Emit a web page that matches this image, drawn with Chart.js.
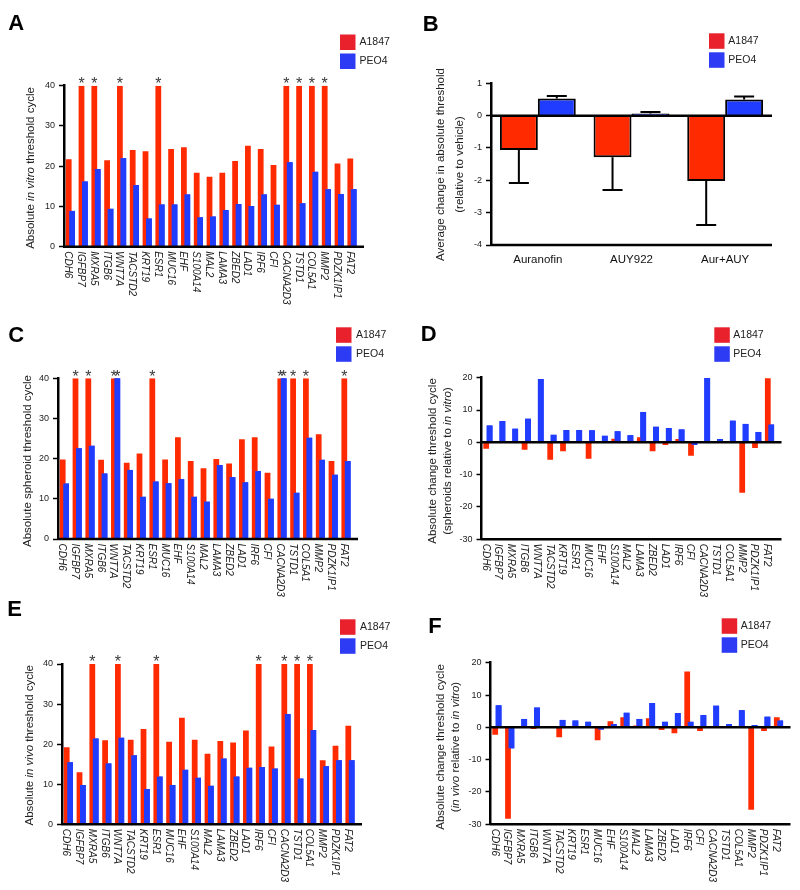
<!DOCTYPE html>
<html>
<head>
<meta charset="utf-8">
<script src="https://cdn.jsdelivr.net/npm/chart.js@4.4.0/dist/chart.umd.min.js"></script>
<style>
  body { margin: 0; background: #fff; }
  #wrap { position: relative; width: 800px; height: 890px; overflow: hidden; background: #fff; }
  canvas { position: absolute; }
</style>
</head>
<body>
<div id="wrap">
  <canvas id="panelA" width="400" height="306" style="left:0px;top:0px"></canvas>
  <canvas id="panelB" width="400" height="300" style="left:400px;top:0px"></canvas>
  <canvas id="panelC" width="400" height="300" style="left:0px;top:300px"></canvas>
  <canvas id="panelD" width="400" height="300" style="left:400px;top:300px"></canvas>
  <canvas id="panelE" width="400" height="300" style="left:0px;top:590px"></canvas>
  <canvas id="panelF" width="400" height="300" style="left:400px;top:590px"></canvas>
</div>
<script>
"use strict"

const genes = ['CDH6', 'IGFBP7', 'MXRA5', 'ITGB6', 'WNT7A', 'TACSTD2', 'KRT19', 'ESR1', 'MUC16', 'EHF',
    'S100A14', 'MAL2', 'LAMA3', 'ZBED2', 'LAD1', 'IRF6', 'CFI', 'CACNA2D3', 'TSTD1', 'COL5A1',
    'MMP2', 'PDZK1IP1', 'FAT2'];
const seriesNames = ['A1847', 'PEO4'];

// A: in vitro
const vitroA1847 = [21.7, 40, 40, 21.5, 40, 24.0, 23.7, 40, 24.3, 24.7, 18.4, 17.4, 18.4, 21.3, 25.1, 24.3, 20.3, 40, 40, 40, 40, 20.7, 21.9];
const vitroPEO4 = [8.9, 16.2, 19.3, 9.4, 22.0, 15.3, 7.0, 10.5, 10.5, 13.0, 7.3, 7.5, 9.1, 10.6, 10.1, 13.0, 10.4, 21.0, 10.8, 18.6, 14.3, 13.1, 14.3];
const vitroStarsA1847 = ['IGFBP7', 'MXRA5', 'WNT7A', 'ESR1', 'CACNA2D3', 'TSTD1', 'COL5A1', 'MMP2'];

// B: drug treatment
const drugs = ['Auranofin', 'AUY922', 'Aur+AUY'];
const drugA1847 = [-1.06, -1.29, -2.02];
const drugA1847Err = [1.02, 1.01, 1.36];
const drugPEO4 = [0.53, 0.07, 0.50];
const drugPEO4Err = [0.08, 0.04, 0.09];

// C: spheroids
const spheroidA1847 = [19.8, 40, 40, 19.7, 40, 19.0, 21.3, 40, 19.8, 25.3, 19.4, 17.6, 19.9, 18.8, 24.8, 25.3, 16.5, 40, 40, 40, 26.1, 19.4, 40];
const spheroidPEO4 = [13.8, 22.6, 23.2, 16.3, 40, 17.2, 10.5, 14.3, 13.9, 14.9, 10.5, 9.3, 18.4, 15.4, 14.1, 16.9, 10.0, 40, 11.5, 25.2, 19.7, 16.0, 19.4];
const spheroidStarsA1847 = ['IGFBP7', 'MXRA5', 'WNT7A', 'ESR1', 'CACNA2D3', 'TSTD1', 'COL5A1', 'FAT2'];
const spheroidStarsPEO4 = ['WNT7A', 'CACNA2D3'];

// D: spheroids relative to in vitro
const spheroidChangeA1847 = [-2.0, 0, 0, -2.3, 0, -5.4, -2.8, 0, -5.1, 0.4, 1.1, 0.4, 1.6, -2.8, -0.8, 1.0, -4.2, 0, 0, 0, -15.6, -1.8, 19.8];
const spheroidChangePEO4 = [5.2, 6.6, 4.2, 7.3, 19.6, 2.3, 3.8, 3.8, 3.7, 2.0, 3.4, 2.2, 9.4, 4.8, 4.4, 4.0, -0.8, 19.9, 1.0, 6.7, 5.7, 3.2, 5.5];

// E: in vivo
const vivoA1847 = [19.2, 13.0, 40, 21.0, 40, 21.1, 23.8, 40, 20.6, 26.6, 21.1, 17.6, 20.8, 20.4, 23.4, 40, 19.4, 40, 40, 40, 16.0, 19.6, 24.6];
const vivoPEO4 = [15.5, 9.8, 21.4, 15.2, 21.6, 17.2, 8.8, 11.9, 9.8, 13.6, 11.6, 9.6, 16.4, 11.9, 14.1, 14.3, 13.9, 27.5, 11.4, 23.5, 14.5, 16.0, 16.0];
const vivoStarsA1847 = ['MXRA5', 'WNT7A', 'ESR1', 'IRF6', 'CACNA2D3', 'TSTD1', 'COL5A1'];

// F: in vivo relative to in vitro
const vivoChangeA1847 = [-2.3, -28.3, 0, -0.5, 0, -3.1, 0, 0, -4.0, 1.9, 3.1, 0.6, 2.8, -0.8, -1.8, 17.3, -1.1, 0, 0, 0, -25.5, -1.1, 3.1];
const vivoChangePEO4 = [6.8, -6.5, 2.6, 6.1, -0.2, 2.3, 2.1, 1.7, -0.7, 1.0, 4.5, 2.6, 7.5, 1.7, 4.4, 1.7, 3.8, 6.7, 1.0, 5.3, 0.7, 3.3, 2.1];

const RED = '#ff2a00';
const BLUE = '#1f3cff';
const LEGEND_RED = '#e8212c';
const LEGEND_BLUE = '#2d3cf4';
const FONT = '"Liberation Sans", Arial, sans-serif';

Chart.defaults.font.family = FONT;

const panelDecor = {
    id: 'panelDecor',
    afterDatasetsDraw(chart, args, o) {
        // PEO4 bars sit over the A1847 ones
        if (o.blueOnTop) {
            chart.getDatasetMeta(1).controller.draw();
        }
    },
    afterDraw(chart, args, o) {
        const ctx = chart.ctx;
        const area = chart.chartArea;
        const xs = chart.scales.x;
        const ys = chart.scales.y;
        ctx.save();

        ctx.strokeStyle = '#000';
        ctx.lineWidth = 2.5;
        o.baselines.forEach(v => {
            const py = ys.getPixelForValue(v);
            ctx.beginPath();
            ctx.moveTo(area.left - 1, py);
            ctx.lineTo(area.left + o.axisLength, py);
            ctx.stroke();
        });

        if (o.errors) {
            ctx.lineWidth = 2;
            o.errors.forEach((err, d) => {
                const vals = chart.data.datasets[d].data;
                chart.getDatasetMeta(d).data.forEach((bar, i) => {
                    const v = vals[i];
                    const end = v < 0 ? v - err[i] : v + err[i];
                    const y1 = ys.getPixelForValue(v);
                    const y2 = ys.getPixelForValue(end);
                    ctx.beginPath();
                    ctx.moveTo(bar.x, y1);
                    ctx.lineTo(bar.x, y2);
                    ctx.moveTo(bar.x - 10, y2);
                    ctx.lineTo(bar.x + 10, y2);
                    ctx.stroke();
                });
            });
        }

        // significance stars
        ctx.fillStyle = '#3a3a3a';
        ctx.font = '16px ' + FONT;
        ctx.textAlign = 'center';
        ctx.textBaseline = 'alphabetic';
        (o.stars || []).forEach((list, d) => {
            const meta = chart.getDatasetMeta(d);
            list.forEach(g => {
                const bar = meta.data[chart.data.labels.indexOf(g)];
                ctx.fillText('*', bar.x, bar.y + 3.4);
            });
        });

        // gene names, reading downwards
        if (o.geneLabels) {
            ctx.fillStyle = '#222';
            ctx.font = 'italic 10px ' + FONT;
            ctx.textAlign = 'left';
            ctx.textBaseline = 'middle';
            chart.data.labels.forEach((g, i) => {
                ctx.save();
                ctx.translate(xs.getPixelForValue(i) - 2.5, area.bottom + 4.5);
                ctx.rotate(Math.PI / 2);
                ctx.fillText(g, 0, 0);
                ctx.restore();
            });
        }

        // y axis title, may mix italic runs
        ctx.fillStyle = '#222';
        ctx.textAlign = 'left';
        ctx.textBaseline = 'middle';
        o.title.forEach((runs, k) => {
            let total = 0;
            runs.forEach(r => {
                ctx.font = (r[1] ? 'italic ' : '') + '11.5px ' + FONT;
                total += ctx.measureText(r[0]).width;
            });
            ctx.save();
            ctx.translate(o.titleX[k], o.titleY);
            ctx.rotate(-Math.PI / 2);
            let pos = -total / 2;
            runs.forEach(r => {
                ctx.font = (r[1] ? 'italic ' : '') + '11.5px ' + FONT;
                ctx.fillText(r[0], pos, 0);
                pos += ctx.measureText(r[0]).width;
            });
            ctx.restore();
        });

        // legend
        const lg = o.legend;
        ctx.fillStyle = LEGEND_RED;
        ctx.fillRect(lg.x, lg.y, 15.5, 15.5);
        ctx.fillStyle = LEGEND_BLUE;
        ctx.fillRect(lg.x, lg.y + 19, 15.5, 15.5);
        ctx.fillStyle = '#222';
        ctx.font = '10.5px ' + FONT;
        ctx.fillText(chart.data.datasets[0].label, lg.tx, lg.y + 8);
        ctx.fillText(chart.data.datasets[1].label, lg.tx, lg.y + 27);

        // panel letter
        ctx.fillStyle = '#000';
        ctx.font = 'bold 22px ' + FONT;
        ctx.textBaseline = 'alphabetic';
        ctx.fillText(o.letter[0], o.letter[1], o.letter[2]);

        ctx.restore();
    }
};

function yAxis(min, max, step) {
    return {
        min: min,
        max: max,
        afterFit: s => { s.width = 40; },
        ticks: { stepSize: step, font: { size: 9 }, color: '#222', padding: 4 },
        grid: { drawOnChartArea: false, tickLength: 5, tickColor: '#000', tickWidth: 1.5 },
        border: { color: '#000', width: 2.5 }
    };
}

function geneChart(id, red, blue, yMin, yMax, box, decor) {
    const canvas = document.getElementById(id);
    const W = canvas.width, H = canvas.height;
    const config = {
        type: 'bar',
        data: {
            labels: genes,
            datasets: [
                { label: seriesNames[0], data: red, backgroundColor: RED, categoryPercentage: 0.53, barPercentage: 1.7 },
                { label: seriesNames[1], data: blue, backgroundColor: BLUE, categoryPercentage: 0.53, barPercentage: 1.7 }
            ]
        },
        options: {
            responsive: false,
            animation: false,
            events: [],
            layout: {
                padding: { left: box.left - 40, right: W - (box.left + 294.4), top: box.top, bottom: H - box.bottom }
            },
            plugins: {
                legend: { display: false },
                tooltip: { enabled: false },
                panelDecor: Object.assign({ blueOnTop: true, geneLabels: true, axisLength: 300 }, decor)
            },
            scales: {
                x: { display: false, offset: true },
                y: yAxis(yMin, yMax, 10)
            }
        },
        plugins: [panelDecor]
    };
    return new Chart(canvas, config);
}

const chartA = geneChart('panelA', vitroA1847, vitroPEO4, 0, 40,
    { left: 64, top: 85.7, bottom: 246.7 },
    {
        baselines: [0],
        stars: [vitroStarsA1847, []],
        title: [[['Absolute ', false], ['in vitro', true], [' threshold cycle', false]]],
        titleX: [30.5], titleY: 168,
        legend: { x: 340, y: 34.5, tx: 359.5 },
        letter: ['A', 8.3, 29.5]
    });

const chartC = geneChart('panelC', spheroidA1847, spheroidPEO4, 0, 40,
    { left: 58, top: 78.3, bottom: 239 },
    {
        baselines: [0],
        stars: [spheroidStarsA1847, spheroidStarsPEO4],
        title: [[['Absolute spheroid threshold cycle', false]]],
        titleX: [27.5], titleY: 161,
        legend: { x: 336, y: 27.3, tx: 356 },
        letter: ['C', 8.3, 41.7]
    });

const chartE = geneChart('panelE', vivoA1847, vivoPEO4, 0, 40,
    { left: 62, top: 74, bottom: 234.3 },
    {
        baselines: [0],
        stars: [vivoStarsA1847, []],
        title: [[['Absolute ', false], ['in vivo', true], [' threshold cycle', false]]],
        titleX: [30], titleY: 155.3,
        legend: { x: 340, y: 29.3, tx: 360 },
        letter: ['E', 7.3, 25.5]
    });

const chartD = geneChart('panelD', spheroidChangeA1847, spheroidChangePEO4, -30, 20,
    { left: 81.5, top: 77.7, bottom: 239.2 },
    {
        baselines: [0, -30],
        title: [
            [['Absolute change threshold cycle', false]],
            [['(spheroids relative to ', false], ['in vitro', true], [')', false]]
        ],
        titleX: [33.3, 47.5], titleY: 161,
        legend: { x: 314.3, y: 27.3, tx: 333.3 },
        letter: ['D', 20.7, 40.7]
    });

const chartF = geneChart('panelF', vivoChangeA1847, vivoChangePEO4, -30, 20,
    { left: 90.5, top: 72.7, bottom: 234.3 },
    {
        baselines: [0, -30],
        title: [
            [['Absolute change threshold cycle', false]],
            [['(', false], ['in vivo', true], [' relative to ', false], ['in vitro', true], [')', false]]
        ],
        titleX: [40.5, 56], titleY: 157,
        legend: { x: 321.7, y: 28.3, tx: 340.7 },
        letter: ['F', 28.3, 43]
    });

// B: average change per drug, with one-sided error bars
const canvasB = document.getElementById('panelB');
const chartB = new Chart(canvasB, {
    type: 'bar',
    data: {
        labels: drugs,
        datasets: [
            { label: seriesNames[0], data: drugA1847, backgroundColor: RED, borderColor: '#000', borderWidth: 2,
              categoryPercentage: 0.81, barPercentage: 1 },
            { label: seriesNames[1], data: drugPEO4, backgroundColor: BLUE, borderColor: '#000', borderWidth: 2,
              categoryPercentage: 0.81, barPercentage: 1 }
        ]
    },
    options: {
        responsive: false,
        animation: false,
        events: [],
        layout: { padding: { left: 91 - 40, right: 400 - 372, top: 83.3, bottom: 300 - 245 - 40 } },
        plugins: {
            legend: { display: false },
            tooltip: { enabled: false },
            panelDecor: {
                baselines: [0, -4],
                axisLength: 281,
                errors: [drugA1847Err, drugPEO4Err],
                title: [
                    [['Average change in absolute threshold', false]],
                    [['(relative to vehicle)', false]]
                ],
                titleX: [41, 60], titleY: 164.5,
                legend: { x: 309, y: 33.3, tx: 328.3 },
                letter: ['B', 22.7, 31]
            }
        },
        scales: {
            x: {
                offset: true,
                afterFit: s => { s.height = 40; },
                grid: { display: false },
                border: { display: false },
                ticks: { font: { size: 11.5 }, color: '#111', padding: 0, maxRotation: 0 }
            },
            y: yAxis(-4, 1, 1)
        }
    },
    plugins: [panelDecor]
});
</script>
</body>
</html>
